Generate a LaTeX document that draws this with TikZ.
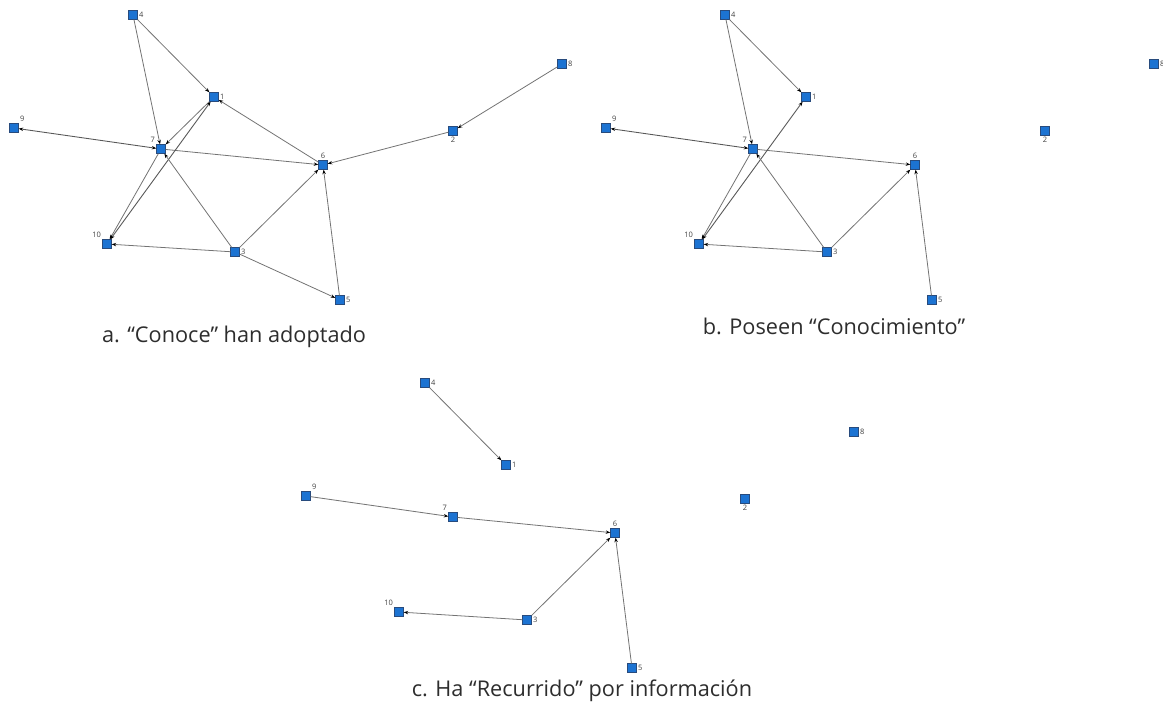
\documentclass[tikz,border=0pt]{standalone}
\usepackage{fontspec}
\setmainfont{Open Sans}
\usetikzlibrary{arrows.meta}
\definecolor{nodeblue}{RGB}{28,115,210}
\definecolor{nodeedge}{RGB}{40,75,125}
\definecolor{captxt}{RGB}{45,45,45}
\tikzset{
  vert/.style={rectangle, minimum size=9pt, inner sep=0pt, fill=nodeblue, draw=nodeedge, line width=0.4pt},
  lbl/.style={font=\fontsize{7.5}{8}\selectfont, text=black!75, inner sep=1.2pt},
  edge/.style={draw=black!55, line width=0.8pt, -{Stealth[length=4.5pt,width=3.4pt,color=black]}},
  bedge/.style={draw=black!65, line width=0.9pt, {Stealth[length=4.5pt,width=3.4pt,color=black]}-{Stealth[length=4.5pt,width=3.4pt,color=black]}},
  captext/.style={font=\fontsize{21.7}{26}\selectfont, text=captxt, inner sep=0pt}
}
\newcommand\graphnodes[3]{%
  \begin{scope}[shift={(#2,#3)}]
    \node[vert, label={[lbl]right:4}]       (#1-4)  at (133,15)  {};
    \node[vert, label={[lbl]right:1}]       (#1-1)  at (214,97)  {};
    \node[vert, label={[lbl]above right:9}] (#1-9)  at (14,128)  {};
    \node[vert, label={[lbl]above left:7}]  (#1-7)  at (161,149) {};
    \node[vert, label={[lbl]above:6}]       (#1-6)  at (323,165) {};
    \node[vert, label={[lbl]right:8}]       (#1-8)  at (562,64)  {};
    \node[vert, label={[lbl]below:2}]       (#1-2)  at (453,131) {};
    \node[vert, label={[lbl]above left:10}] (#1-10) at (107,244) {};
    \node[vert, label={[lbl]right:3}]       (#1-3)  at (235,252) {};
    \node[vert, label={[lbl]right:5}]       (#1-5)  at (340,300) {};
  \end{scope}}
\begin{document}
\begin{tikzpicture}[x=1pt,y=-1pt]
\useasboundingbox (0,0) rectangle (1163,706);
% panel a
\graphnodes{a}{0}{0}
\draw[edge] (a-4) -- (a-1);
\draw[edge] (a-4) -- (a-7);
\draw[bedge] (a-9) -- (a-7);
\draw[edge] (a-7) -- (a-6);
\draw[edge] (a-6) -- (a-1);
\draw[edge] (a-1) -- (a-7);
\draw[edge] (a-7) -- (a-10);
\draw[bedge] (a-10) -- (a-1);
\draw[edge] (a-3) -- (a-7);
\draw[edge] (a-3) -- (a-10);
\draw[edge] (a-3) -- (a-6);
\draw[edge] (a-3) -- (a-5);
\draw[edge] (a-5) -- (a-6);
\draw[edge] (a-2) -- (a-6);
\draw[edge] (a-8) -- (a-2);
\node[captext] (capa) at (234,337) {a. “Conoce” han adoptado};
% panel b
\graphnodes{b}{592}{0}
\draw[edge] (b-4) -- (b-1);
\draw[edge] (b-4) -- (b-7);
\draw[bedge] (b-9) -- (b-7);
\draw[edge] (b-7) -- (b-6);
\draw[edge] (b-7) -- (b-10);
\draw[bedge] (b-10) -- (b-1);
\draw[edge] (b-3) -- (b-7);
\draw[edge] (b-3) -- (b-10);
\draw[edge] (b-3) -- (b-6);
\draw[edge] (b-5) -- (b-6);
\node[captext] (capb) at (834,326) {b. Poseen “Conocimiento”};
% panel c
\graphnodes{c}{292}{368}
\draw[edge] (c-4) -- (c-1);
\draw[edge] (c-9) -- (c-7);
\draw[edge] (c-7) -- (c-6);
\draw[edge] (c-3) -- (c-6);
\draw[edge] (c-3) -- (c-10);
\draw[edge] (c-5) -- (c-6);
\node[captext] (capc) at (582,691) {c. Ha “Recurrido” por información};
\end{tikzpicture}
\end{document}
